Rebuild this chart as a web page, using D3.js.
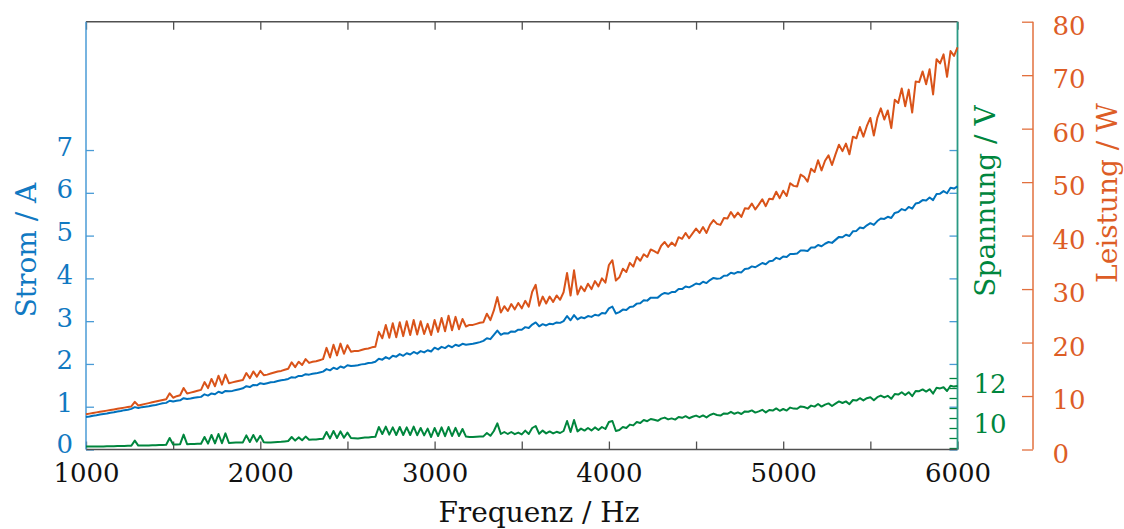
<!DOCTYPE html>
<html>
<head>
<meta charset="utf-8">
<script src="https://cdn.jsdelivr.net/npm/d3@7"></script>
<style>
  html, body { margin: 0; padding: 0; background: #fff; }
  svg text { font-family: "DejaVu Serif", serif; }
</style>
</head>
<body>
<svg id="chart" width="1124" height="529"></svg>
<script>
// Frequency sweep, one sample every 20 Hz
const freq = d3.range(1000, 6001, 20);

// Strom / A
const strom = [
  0.76,0.77,0.79,0.80,0.82,0.83,0.84,0.86,0.87,0.89,
  0.90,0.92,0.93,0.95,0.99,0.97,0.99,1.00,1.01,1.03,
  1.04,1.06,1.08,1.09,1.14,1.12,1.14,1.15,1.20,1.18,
  1.19,1.21,1.22,1.23,1.29,1.26,1.31,1.29,1.35,1.32,
  1.37,1.36,1.37,1.39,1.41,1.43,1.48,1.46,1.51,1.50,
  1.55,1.53,1.55,1.57,1.58,1.60,1.62,1.63,1.65,1.69,
  1.68,1.72,1.72,1.76,1.75,1.77,1.78,1.80,1.82,1.88,
  1.85,1.91,1.88,1.94,1.91,1.97,1.95,1.96,1.97,1.99,
  2.00,2.02,2.03,2.05,2.12,2.10,2.16,2.12,2.19,2.17,
  2.23,2.19,2.25,2.22,2.28,2.24,2.30,2.27,2.32,2.29,
  2.38,2.34,2.40,2.37,2.43,2.39,2.45,2.42,2.47,2.45,
  2.46,2.47,2.49,2.51,2.54,2.60,2.58,2.68,2.78,2.68,
  2.72,2.71,2.76,2.75,2.80,2.80,2.86,2.84,2.92,2.97,
  2.88,2.93,2.90,2.94,2.93,2.97,2.96,3.00,3.12,3.02,
  3.14,3.04,3.09,3.07,3.12,3.10,3.15,3.13,3.19,3.18,
  3.30,3.34,3.18,3.21,3.27,3.26,3.33,3.34,3.41,3.42,
  3.49,3.48,3.55,3.55,3.55,3.62,3.66,3.64,3.68,3.68,
  3.75,3.75,3.81,3.79,3.83,3.88,3.86,3.92,3.89,3.96,
  4.01,3.99,4.00,4.06,4.07,4.13,4.11,4.15,4.14,4.22,
  4.23,4.28,4.26,4.31,4.36,4.33,4.40,4.41,4.48,4.45,
  4.51,4.50,4.57,4.57,4.58,4.65,4.65,4.64,4.72,4.72,
  4.78,4.75,4.81,4.85,4.83,4.90,4.97,4.96,5.02,4.99,
  5.10,5.11,5.19,5.17,5.24,5.29,5.25,5.34,5.40,5.39,
  5.44,5.41,5.53,5.55,5.62,5.59,5.67,5.63,5.75,5.77,
  5.83,5.82,5.89,5.83,5.97,5.98,6.04,5.99,6.12,6.10,
  6.15
];

// Spannung / V
const spannung = [
  8.82,8.82,8.82,8.83,8.83,8.83,8.84,8.84,8.84,8.85,
  8.85,8.85,8.86,8.86,9.12,8.87,8.87,8.88,8.88,8.89,
  8.89,8.90,8.90,8.91,9.25,8.93,8.93,8.94,9.42,8.94,
  8.95,8.95,8.96,8.96,9.30,8.97,9.40,8.98,9.45,8.99,
  9.48,9.00,9.01,9.02,9.02,9.03,9.38,9.05,9.40,9.07,
  9.36,9.04,9.03,9.03,9.04,9.05,9.06,9.08,9.10,9.30,
  9.12,9.28,9.14,9.32,9.16,9.17,9.18,9.20,9.21,9.55,
  9.23,9.60,9.25,9.58,9.26,9.52,9.25,9.24,9.23,9.25,
  9.27,9.28,9.30,9.31,9.80,9.45,9.82,9.42,9.78,9.40,
  9.80,9.40,9.78,9.40,9.82,9.39,9.75,9.38,9.72,9.30,
  9.75,9.35,9.78,9.34,9.80,9.35,9.76,9.35,9.70,9.32,
  9.30,9.30,9.31,9.32,9.33,9.50,9.36,9.60,9.98,9.45,
  9.55,9.45,9.55,9.44,9.52,9.43,9.62,9.45,9.75,9.85,
  9.46,9.62,9.48,9.58,9.48,9.56,9.50,9.60,10.10,9.55,
  10.15,9.58,9.72,9.62,9.75,9.63,9.78,9.65,9.80,9.70,
  10.05,10.10,9.60,9.65,9.80,9.75,9.92,9.88,10.05,10.00,
  10.15,10.09,10.20,10.16,10.11,10.22,10.27,10.18,10.23,10.17,
  10.30,10.26,10.34,10.24,10.31,10.37,10.29,10.38,10.28,10.40,
  10.47,10.40,10.37,10.48,10.46,10.56,10.46,10.53,10.45,10.58,
  10.56,10.63,10.52,10.58,10.66,10.53,10.65,10.62,10.73,10.61,
  10.70,10.62,10.77,10.72,10.71,10.83,10.80,10.73,10.87,10.82,
  10.95,10.82,10.92,10.98,10.85,10.97,11.08,11.00,11.08,10.94,
  11.15,11.12,11.24,11.13,11.24,11.29,11.14,11.29,11.37,11.28,
  11.36,11.21,11.45,11.42,11.54,11.40,11.54,11.34,11.60,11.59,
  11.68,11.57,11.69,11.47,11.76,11.73,11.79,11.60,11.86,11.82,
  11.85
];

// Leistung / W
const leistung = [
  6.60,6.71,6.82,6.94,7.05,7.16,7.27,7.38,7.50,7.61,
  7.72,7.83,7.94,8.06,8.90,8.24,8.38,8.53,8.67,8.82,
  8.96,9.10,9.25,9.39,10.50,9.68,9.97,10.14,11.50,10.47,
  10.64,10.81,10.98,11.15,12.60,11.48,13.20,11.82,13.80,12.13,
  14.00,12.40,12.55,12.70,12.86,13.01,14.30,13.32,14.60,13.62,
  14.70,13.90,14.00,14.20,14.40,14.60,14.70,14.90,15.10,16.30,
  15.40,16.40,15.80,16.90,16.20,16.40,16.50,16.70,16.90,19.00,
  17.20,19.60,17.60,19.80,17.90,19.50,18.30,18.40,18.40,18.60,
  18.80,18.90,19.10,19.20,22.00,20.80,23.30,20.90,23.60,21.00,
  23.80,21.20,24.00,21.40,24.20,21.50,24.00,21.60,23.50,21.40,
  24.20,22.00,24.60,22.10,25.00,22.30,24.80,22.50,24.40,23.00,
  23.30,23.30,23.50,23.70,23.80,25.40,24.20,26.00,28.50,25.60,
  26.80,25.90,27.20,26.20,27.40,26.40,27.80,26.70,29.50,30.80,
  26.90,28.60,27.30,28.60,27.60,28.80,28.00,29.40,33.00,28.80,
  33.50,29.00,30.50,29.60,31.00,30.00,31.50,30.50,32.00,31.20,
  34.50,35.40,31.60,32.20,33.80,33.20,34.90,34.20,36.00,35.30,
  36.50,36.00,37.40,37.10,36.70,38.10,38.80,37.90,38.70,38.10,
  39.70,39.40,40.50,39.50,40.40,41.30,40.50,41.60,40.50,42.00,
  42.90,42.20,42.00,43.30,43.20,44.40,43.40,44.30,43.50,45.10,
  45.00,46.00,44.90,45.80,46.80,45.50,46.90,46.80,48.20,47.00,
  48.40,47.40,49.80,49.30,49.20,51.40,51.00,50.10,52.50,51.90,
  54.10,52.20,54.00,55.00,53.20,55.20,57.00,55.80,57.20,55.20,
  58.50,58.20,60.30,58.50,60.50,62.00,58.70,62.00,63.80,61.70,
  63.40,60.10,65.40,64.80,67.50,64.20,67.30,63.00,68.80,68.70,
  70.70,68.30,71.10,66.40,73.00,72.20,73.90,69.70,74.50,73.60,
  75.20
];

// Tick values
const xTicks = d3.range(1000, 6001, 500);
const xLabels = [1000, 2000, 3000, 4000, 5000, 6000];
const stromTicks = [0, 1, 2, 3, 4, 5, 6, 7];
const spannungTicks = [8.75, 9.25, 9.75, 10.25, 10.75, 11.25, 11.75, 12.25];
const spannungLabels = [10, 12];
const leistungTicks = [0, 10, 20, 30, 40, 50, 60, 70, 80];

// Colours
const cBlue = "#0072bd", cBlueText = "#1179c2", cBlueAxis = "#4a9bd6";
const cGreen = "#00863d";
const cOrange = "#d95319", cOrangeText = "#dd5d26", cOrangeAxis = "#e2703e";
const cFrame = "#505050";

// Plot box
const L = 86, R = 957.5, T = 21.7, B = 449.5;
const powerAxisX = 1033;
const FS = 26, TITLE_FS = 28;

const x = d3.scaleLinear().domain([1000, 6000]).range([L, R]);
const yI = d3.scaleLinear().domain([0, 10]).range([B, T]);
const yV = d3.scaleLinear().domain([8.675, 30.065]).range([B, T]);
const yP = d3.scaleLinear().domain([0, 80]).range([B, T]);

const svg = d3.select("#chart");

function finish(g, tickColor, textColor) {
  g.attr("font-family", "DejaVu Serif, serif").attr("font-size", FS);
  g.select(".domain").remove();
  g.selectAll(".tick line").attr("stroke", tickColor).attr("stroke-width", 1.3);
  g.selectAll(".tick text").attr("fill", textColor);
}

// Bottom and top frequency axes (ticks point inward)
svg.append("g").attr("transform", `translate(0,${B})`)
  .call(d3.axisBottom(x).tickValues(xTicks).tickSize(-8).tickSizeOuter(0)
    .tickFormat(d => xLabels.includes(d) ? d : ""))
  .call(g => finish(g, cFrame, "#111"))
  .call(g => g.selectAll(".tick text").attr("y", 0).attr("dy", 32.5));

svg.append("g").attr("transform", `translate(0,${T})`)
  .call(d3.axisTop(x).tickValues(xTicks).tickSize(-8).tickSizeOuter(0).tickFormat(""))
  .call(g => finish(g, cFrame, "#111"));

// Current axis on the left, mirrored ticks on the right edge
svg.append("g").attr("transform", `translate(${L},0)`)
  .call(d3.axisLeft(yI).tickValues(stromTicks).tickSize(-8).tickSizeOuter(0).tickPadding(13))
  .call(g => finish(g, cBlueAxis, cBlueText))
  .call(g => g.selectAll(".tick text").attr("dy", d => d === 0 ? 3 : 5));

svg.append("g").attr("transform", `translate(${R},0)`)
  .call(d3.axisRight(yI).tickValues(stromTicks).tickSize(-8).tickSizeOuter(0).tickFormat(""))
  .call(g => finish(g, cBlueAxis, cBlueText));

// Voltage axis on the right edge of the plot box
svg.append("g").attr("transform", `translate(${R},0)`)
  .call(d3.axisRight(yV).tickValues(spannungTicks).tickSize(-8).tickSizeOuter(0).tickFormat(""))
  .call(g => finish(g, cGreen, cGreen));

svg.append("g").attr("transform", `translate(${R},0)`)
  .call(d3.axisRight(yV).tickValues(spannungLabels).tickSize(0).tickSizeOuter(0).tickPadding(16))
  .call(g => finish(g, cGreen, cGreen))
  .call(g => g.selectAll(".tick text").attr("dy", 9.5));

// Power axis, offset to the right
svg.append("g").attr("transform", `translate(${powerAxisX},0)`)
  .call(d3.axisLeft(yP).tickValues(leistungTicks).tickSize(11).tickSizeOuter(0).tickFormat(""))
  .call(g => finish(g, cOrangeAxis, cOrangeText));

svg.append("g").attr("transform", `translate(${powerAxisX},0)`)
  .call(d3.axisRight(yP).tickValues(leistungTicks).tickSize(0).tickSizeOuter(0).tickPadding(19.5))
  .call(g => finish(g, cOrangeAxis, cOrangeText))
  .call(g => g.selectAll(".tick text").attr("dy", 12.5));

svg.append("line")
  .attr("x1", powerAxisX).attr("x2", powerAxisX).attr("y1", T).attr("y2", B)
  .attr("stroke", cOrangeAxis).attr("stroke-width", 1.5);

// Frame of the plot box
svg.append("line").attr("x1", L).attr("x2", R).attr("y1", B).attr("y2", B)
  .attr("stroke", cFrame).attr("stroke-width", 1.5);
svg.append("line").attr("x1", L).attr("x2", R).attr("y1", T).attr("y2", T)
  .attr("stroke", cFrame).attr("stroke-width", 1.5);
svg.append("line").attr("x1", L).attr("x2", L).attr("y1", T).attr("y2", B)
  .attr("stroke", cBlueAxis).attr("stroke-width", 1.5);
svg.append("line").attr("x1", R).attr("x2", R).attr("y1", T).attr("y2", B)
  .attr("stroke", "#2a9a84").attr("stroke-width", 1.8);

// Data lines
const series = [
  { values: strom, scale: yI, color: cBlue },
  { values: spannung, scale: yV, color: cGreen },
  { values: leistung, scale: yP, color: cOrange }
];
series.forEach(s => {
  const line = d3.line()
    .x((d, i) => x(freq[i]))
    .y(d => s.scale(d));
  svg.append("path")
    .datum(s.values)
    .attr("d", line)
    .attr("fill", "none")
    .attr("stroke", s.color)
    .attr("stroke-width", 2)
    .attr("stroke-linejoin", "round");
});

// Axis titles
svg.append("text")
  .attr("x", 539).attr("y", 522)
  .attr("text-anchor", "middle").attr("font-size", TITLE_FS).attr("fill", "#111")
  .text("Frequenz / Hz");

svg.append("text")
  .attr("transform", "translate(36,250) rotate(-90)")
  .attr("text-anchor", "middle").attr("font-size", TITLE_FS).attr("fill", cBlueText)
  .text("Strom / A");

svg.append("text")
  .attr("transform", "translate(995,201) rotate(-90)")
  .attr("text-anchor", "middle").attr("font-size", TITLE_FS).attr("fill", cGreen)
  .text("Spannung / V");

svg.append("text")
  .attr("transform", "translate(1117,193) rotate(-90)")
  .attr("text-anchor", "middle").attr("font-size", TITLE_FS).attr("fill", cOrangeText)
  .text("Leistung / W");
</script>
</body>
</html>
